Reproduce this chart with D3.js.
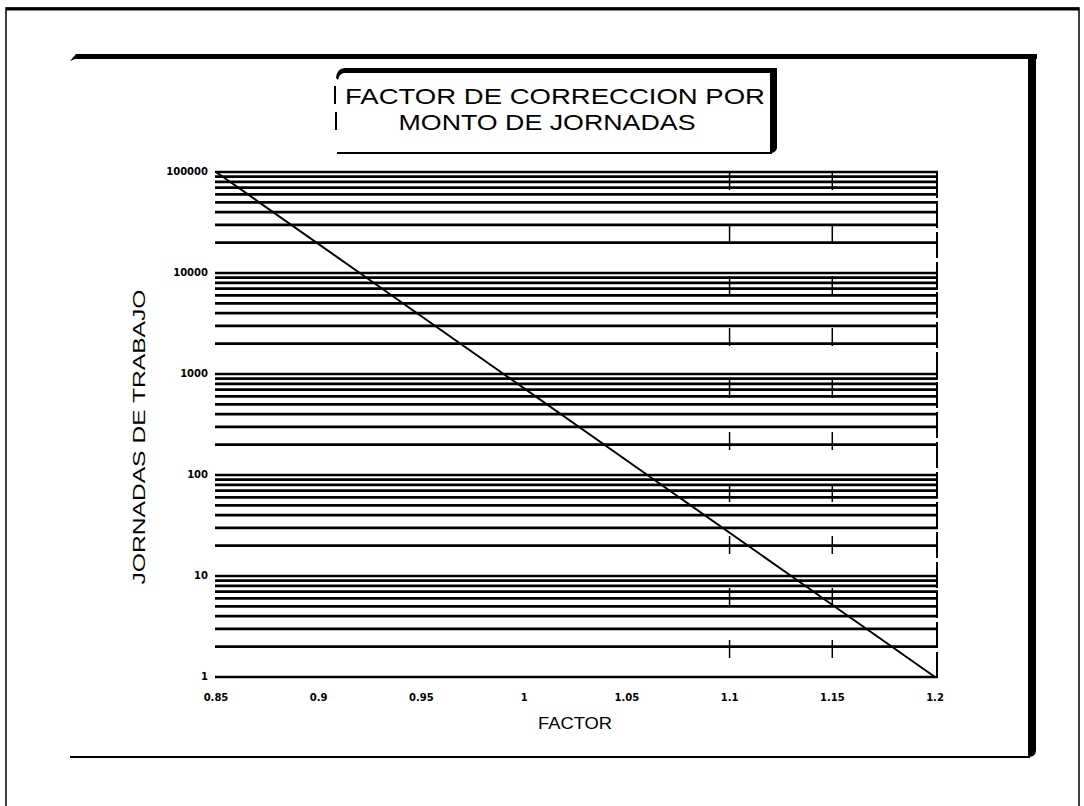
<!DOCTYPE html>
<html>
<head>
<meta charset="utf-8">
<script src="https://cdn.jsdelivr.net/npm/d3@7"></script>
<style>
  body { margin: 0; background: #fff; }
  text { fill: #000; }
</style>
</head>
<body>
<svg id="chart" width="1084" height="806"></svg>
<script>
// chart data
var titleLines = ['FACTOR DE CORRECCION POR', 'MONTO DE JORNADAS'];
var xTicks = [0.85, 0.9, 0.95, 1, 1.05, 1.1, 1.15, 1.2];
var xTickLabels = ['0.85', '0.9', '0.95', '1', '1.05', '1.1', '1.15', '1.2'];
var yTicks = [1, 10, 100, 1000, 10000, 100000];
var yTickLabels = ['1', '10', '100', '1000', '10000', '100000'];
var factor = [0.85, 0.92, 0.99, 1.06, 1.13, 1.2];
var jornadas = [100000, 10000, 1000, 100, 10, 1];
var dashedX = [1.1, 1.15];

var svg = d3.select('#chart');

var x = d3.scaleLinear().domain([0.85, 1.2]).range([216, 935]);
var y = d3.scaleLog().domain([1, 100000]).range([677, 172]);

// page border
svg.append('rect')
  .attr('x', 6).attr('y', 8).attr('width', 1073).attr('height', 800)
  .attr('fill', 'none').attr('stroke', '#000').attr('stroke-width', 1.5);
svg.append('line')
  .attr('x1', 6).attr('x2', 1079).attr('y1', 9).attr('y2', 9)
  .attr('stroke', '#000').attr('stroke-width', 3);

// inner frame with shadowed top / right edges
svg.append('path')
  .attr('d', 'M70,61 L76,54 L1037,54 L1037,59 L75,59 Z')
  .attr('fill', '#000');
svg.append('path')
  .attr('d', 'M1028,54 L1036,54 L1036,750 Q1036,757 1029,757 L1028,757 Z')
  .attr('fill', '#000');
svg.append('line')
  .attr('x1', 70).attr('x2', 1030).attr('y1', 757).attr('y2', 757)
  .attr('stroke', '#000').attr('stroke-width', 2);

// title box
var tb = svg.append('g').attr('class', 'title-box');
tb.append('path')
  .attr('d', 'M336,78 Q337,68 345,68 L777,68 L777,73 L344,73 Q339,74 338,80 Z')
  .attr('fill', '#000');
tb.append('path')
  .attr('d', 'M770,68 L777,68 L777,148 Q776,153 770,153 Z')
  .attr('fill', '#000');
tb.append('line')
  .attr('x1', 337).attr('x2', 772).attr('y1', 153).attr('y2', 153)
  .attr('stroke', '#000').attr('stroke-width', 2);
tb.append('line')
  .attr('x1', 335).attr('x2', 335).attr('y1', 86).attr('y2', 104)
  .attr('stroke', '#000').attr('stroke-width', 2);
tb.append('line')
  .attr('x1', 336).attr('x2', 336).attr('y1', 112).attr('y2', 130)
  .attr('stroke', '#000').attr('stroke-width', 2);

tb.selectAll('text.title')
  .data(titleLines)
  .enter().append('text')
  .attr('class', 'title')
  .attr('x', function (d, i) { return i === 0 ? 555 : 547; })
  .attr('y', function (d, i) { return i === 0 ? 104 : 130; })
  .attr('text-anchor', 'middle')
  .attr('textLength', function (d, i) { return i === 0 ? 420 : 297; })
  .attr('lengthAdjust', 'spacingAndGlyphs')
  .style('font-family', 'Liberation Sans, Arial, sans-serif')
  .style('font-size', '22px')
  .text(function (d) { return d; });

// horizontal log grid (every minor value of each decade)
svg.append('g').attr('class', 'h-grid')
  .selectAll('line')
  .data(y.ticks())
  .enter().append('line')
  .attr('x1', 215).attr('x2', 938)
  .attr('y1', function (d) { return y(d); })
  .attr('y2', function (d) { return y(d); })
  .attr('stroke', '#000').attr('stroke-width', 2.7);

// dashed verticals on the right part of the plot
svg.append('g').attr('class', 'v-grid')
  .selectAll('line')
  .data(dashedX)
  .enter().append('line')
  .attr('x1', function (d) { return x(d); })
  .attr('x2', function (d) { return x(d); })
  .attr('y1', 172).attr('y2', 677)
  .attr('stroke', '#000').attr('stroke-width', 1.5)
  .attr('stroke-dasharray', '18,34');
svg.append('line')
  .attr('x1', x(1.2) + 2).attr('x2', x(1.2) + 2)
  .attr('y1', 172).attr('y2', 677)
  .attr('stroke', '#000').attr('stroke-width', 2)
  .attr('stroke-dasharray', '26,4');

// the factor line
var line = d3.line()
  .x(function (d) { return x(d[0]); })
  .y(function (d) { return y(d[1]); });
svg.append('path')
  .datum(d3.zip(factor, jornadas))
  .attr('d', line)
  .attr('fill', 'none')
  .attr('stroke', '#000')
  .attr('stroke-width', 2);

// y tick labels
svg.append('g').attr('class', 'y-labels')
  .selectAll('text')
  .data(yTicks)
  .enter().append('text')
  .attr('x', 208)
  .attr('y', function (d) { return y(d) + 3; })
  .attr('text-anchor', 'end')
  .style('font-family', 'DejaVu Sans, sans-serif')
  .style('font-weight', 'bold')
  .style('font-size', '10px')
  .text(function (d, i) { return yTickLabels[i]; });

// x tick labels
svg.append('g').attr('class', 'x-labels')
  .selectAll('text')
  .data(xTicks)
  .enter().append('text')
  .attr('x', function (d) { return x(d); })
  .attr('y', 701)
  .attr('text-anchor', 'middle')
  .style('font-family', 'DejaVu Sans, sans-serif')
  .style('font-weight', 'bold')
  .style('font-size', '10px')
  .text(function (d, i) { return xTickLabels[i]; });

// axis titles
svg.append('text')
  .attr('transform', 'translate(145,437) rotate(-90)')
  .attr('text-anchor', 'middle')
  .attr('textLength', 295)
  .attr('lengthAdjust', 'spacingAndGlyphs')
  .style('font-family', 'Liberation Sans, Arial, sans-serif')
  .style('font-size', '17px')
  .text('JORNADAS DE TRABAJO');

svg.append('text')
  .attr('x', 575)
  .attr('y', 729)
  .attr('text-anchor', 'middle')
  .attr('textLength', 74)
  .attr('lengthAdjust', 'spacingAndGlyphs')
  .style('font-family', 'Liberation Sans, Arial, sans-serif')
  .style('font-size', '17px')
  .text('FACTOR');
</script>
</body>
</html>
